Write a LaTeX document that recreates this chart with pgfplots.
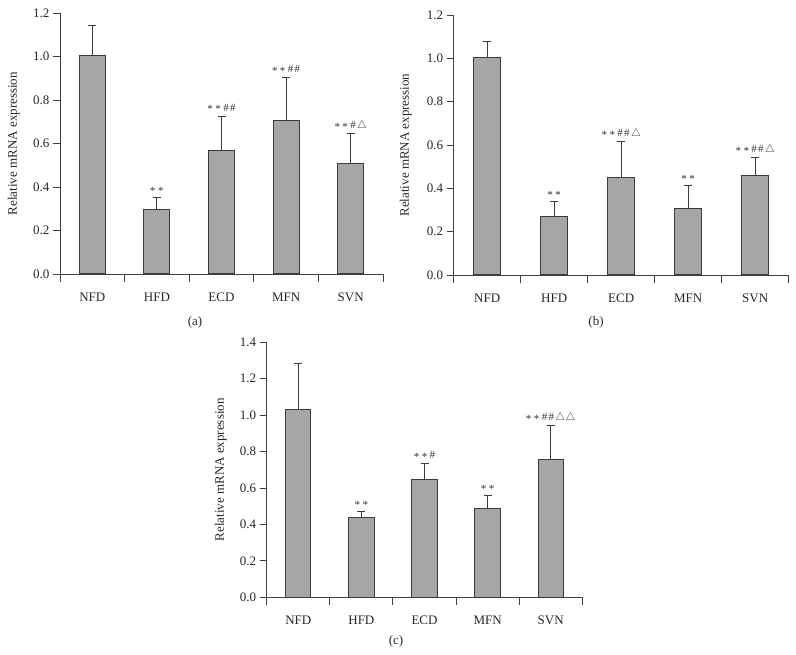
\documentclass[border=0pt]{standalone}
\usepackage{fontspec}
\setmainfont{Liberation Serif}
\usepackage{pgfplots}
\usepackage{pgfplotstable}
\pgfplotsset{compat=1.18}
\definecolor{barfill}{HTML}{A6A6A6}
\definecolor{edge}{HTML}{3A3A3A}
\definecolor{axcol}{HTML}{404040}

\pgfplotstableread{
x y e
0 1.005 0.137
1 0.296 0.054
2 0.569 0.158
3 0.706 0.199
4 0.509 0.139
}\dataA
\pgfplotstableread{
x y e
0 1.003 0.075
1 0.271 0.069
2 0.449 0.168
3 0.308 0.104
4 0.457 0.083
}\dataB
\pgfplotstableread{
x y e
0 1.029 0.256
1 0.436 0.034
2 0.648 0.084
3 0.485 0.073
4 0.758 0.186
}\dataC

\pgfplotsset{
  panel/.style={
    scale only axis,
    anchor=south west,
    axis lines=left,
    axis line style={-, draw=axcol, line width=0.9pt},
    xmin=-0.5, xmax=4.5, ymin=0,
    xtick={0,1,2,3,4},
    xticklabels={NFD,HFD,ECD,MFN,SVN},
    minor xtick={-0.5,0.5,1.5,2.5,3.5,4.5},
    tick align=outside,
    major tick length=7pt,
    minor tick length=8pt,
    major x tick style={draw=none},
    every tick/.style={draw=axcol, line width=0.9pt},
    minor x tick style={draw=axcol, line width=0.9pt},
    ytick distance=0.2,
    yticklabel style={/pgf/number format/.cd, fixed, fixed zerofill, precision=1},
    /pgf/number format/assume math mode=true,
    tick label style={font=\fontsize{13}{15}\selectfont, text=black!85},
    label style={font=\fontsize{13}{15}\selectfont, text=black!85},
    xticklabel style={yshift=-8pt},
    ylabel={Relative mRNA expression},
    ylabel style={at={(axis description cs:-0.143,0.5)}, anchor=center, rotate=0},
    clip=false,
  },
  bars/.style={
    ybar, bar width=0.4, fill=barfill, draw=edge, line width=1pt,
    error bars/.cd, y dir=plus, y explicit,
    error bar style={draw=edge, line width=1pt},
    error mark options={draw=edge, line width=1pt, mark size=4pt, rotate=90},
  },
}
\tikzset{ann/.style={anchor=base, yshift=5pt, inner sep=0pt, font=\fontsize{11}{13}\selectfont, text=black!80}}
\newcommand{\as}{\raisebox{-0.17em}{*}\hspace{0.22em}}
\newcommand{\hh}{\#\hspace{0.12em}}
\newcommand{\tri}{$\triangle$\hspace{0.05em}}

\begin{document}
\begin{tikzpicture}
\useasboundingbox (0,0) rectangle (796pt,655pt);

% (a)
\begin{axis}[panel, at={(60pt,381pt)}, width=323pt, height=260.7pt, ymax=1.2]
\addplot[bars] table[x=x, y=y, y error=e] {\dataA};
\node[ann] at (axis cs:1,0.350) {\as\as};
\node[ann] at (axis cs:2,0.727) {\as\as\hh\hh};
\node[ann] at (axis cs:3,0.905) {\as\as\hh\hh};
\node[ann] at (axis cs:4,0.648) {\as\as\hh\tri};
\end{axis}

% (b)
\begin{axis}[panel, at={(453.7pt,380pt)}, width=335pt, height=260pt, ymax=1.2]
\addplot[bars] table[x=x, y=y, y error=e] {\dataB};
\node[ann] at (axis cs:1,0.340) {\as\as};
\node[ann] at (axis cs:2,0.617) {\as\as\hh\hh\tri};
\node[ann] at (axis cs:3,0.412) {\as\as};
\node[ann] at (axis cs:4,0.540) {\as\as\hh\hh\tri};
\end{axis}

% (c)
\begin{axis}[panel, at={(266.7pt,57.7pt)}, width=315.6pt, height=255pt, ymax=1.4,
  ylabel style={at={(axis description cs:-0.146,0.5)}}]
\addplot[bars] table[x=x, y=y, y error=e] {\dataC};
\node[ann] at (axis cs:1,0.470) {\as\as};
\node[ann] at (axis cs:2,0.732) {\as\as\hh};
\node[ann] at (axis cs:3,0.558) {\as\as};
\node[ann] at (axis cs:4,0.944) {\as\as\hh\hh\tri\tri};
\end{axis}

\node[font=\fontsize{13}{15}\selectfont, text=black!85] at (195pt,333pt) {(a)};
\node[font=\fontsize{13}{15}\selectfont, text=black!85] at (596pt,333pt) {(b)};
\node[font=\fontsize{13}{15}\selectfont, text=black!85] at (396pt,14pt) {(c)};
\end{tikzpicture}
\end{document}
